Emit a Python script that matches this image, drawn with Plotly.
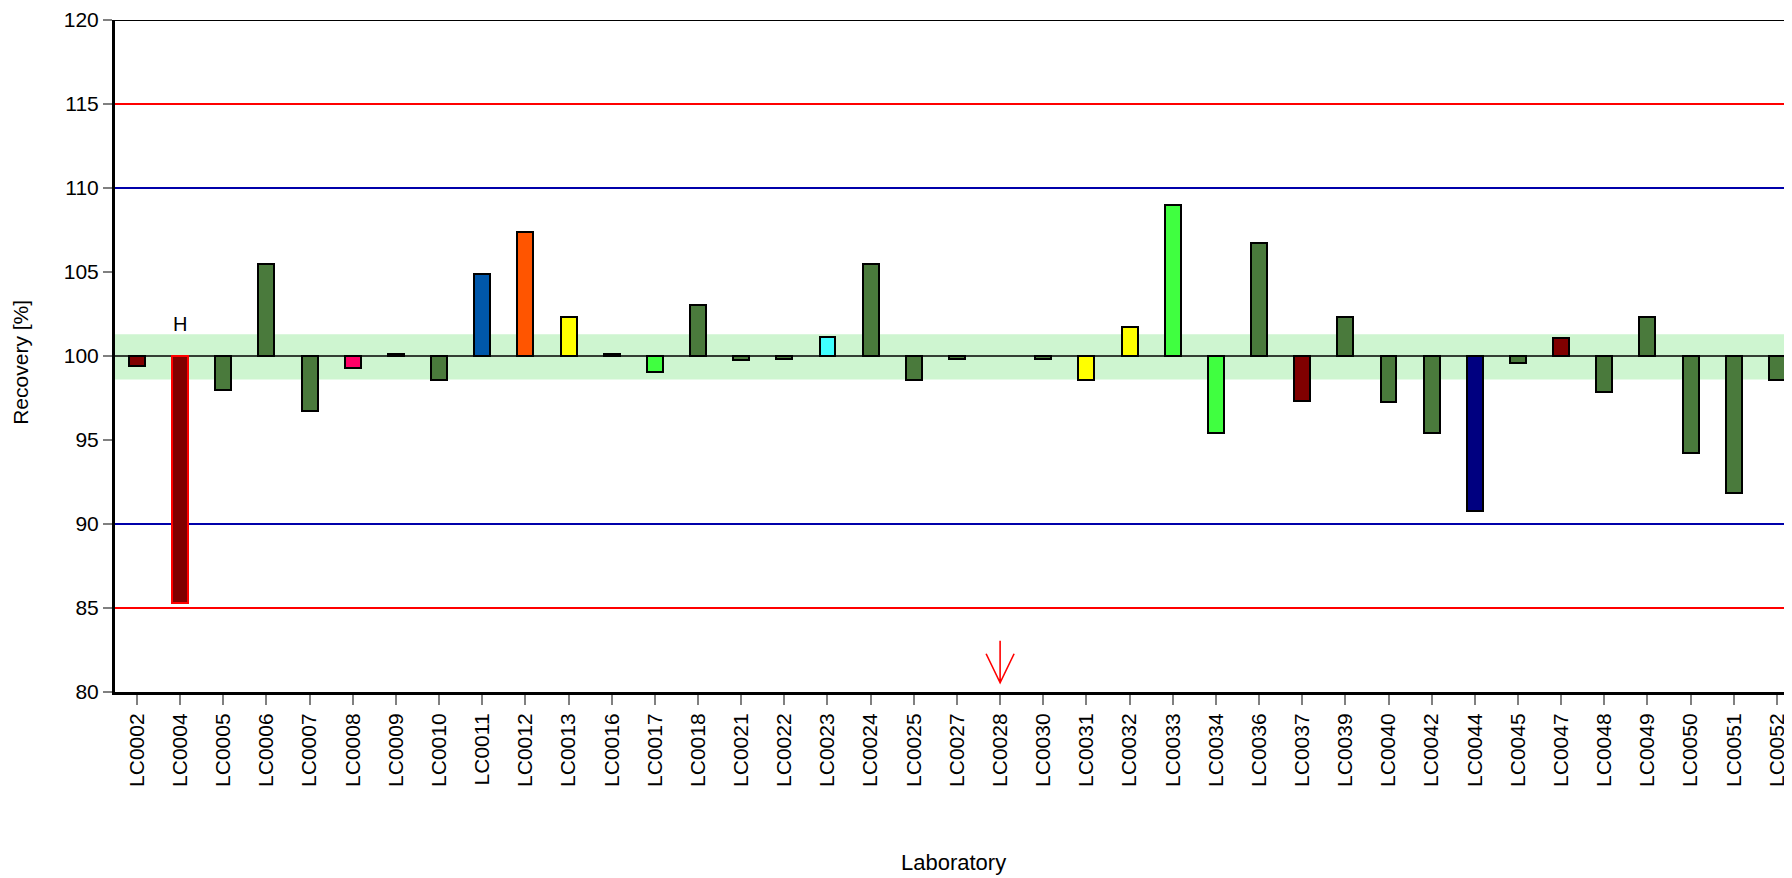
import plotly.graph_objects as go

#----- DATA --------------------------------------------------------------------
labs = [
    'LC0002', 'LC0004', 'LC0005', 'LC0006', 'LC0007', 'LC0008', 'LC0009',
    'LC0010', 'LC0011', 'LC0012', 'LC0013', 'LC0016', 'LC0017', 'LC0018',
    'LC0021', 'LC0022', 'LC0023', 'LC0024', 'LC0025', 'LC0027', 'LC0028',
    'LC0030', 'LC0031', 'LC0032', 'LC0033', 'LC0034', 'LC0036', 'LC0037',
    'LC0039', 'LC0040', 'LC0042', 'LC0044', 'LC0045', 'LC0047', 'LC0048',
    'LC0049', 'LC0050', 'LC0051', 'LC0052',
]
recovery = [
    99.4, 85.3, 98.0, 105.5, 96.7, 99.3, 100.1,
    98.6, 104.9, 107.4, 102.3, 100.1, 99.05, 103.05,
    99.75, 99.85, 101.15, 105.5, 98.55, 99.85, None,
    99.85, 98.55, 101.75, 109.0, 95.4, 106.7, 97.3,
    102.3, 97.25, 95.4, 90.8, 99.6, 101.1, 97.85,
    102.3, 94.2, 91.85, 98.55,
]
bar_colors = [
    '#800000', '#800000', '#4a7a3c', '#4a7a3c', '#4a7a3c', '#ff0066', '#4a7a3c',
    '#4a7a3c', '#0057aa', '#ff5500', '#ffff00', '#4a7a3c', '#40ff40', '#4a7a3c',
    '#4a7a3c', '#4a7a3c', '#40ffff', '#4a7a3c', '#4a7a3c', '#4a7a3c', '#4a7a3c',
    '#4a7a3c', '#ffff00', '#ffff00', '#40ff40', '#40ff40', '#4a7a3c', '#800000',
    '#4a7a3c', '#4a7a3c', '#4a7a3c', '#000080', '#4a7a3c', '#800000', '#4a7a3c',
    '#4a7a3c', '#4a7a3c', '#4a7a3c', '#4a7a3c',
]
assigned_value = 100
band = [98.6, 101.3]          # light green uncertainty band
limits_inner = [90, 110]      # blue lines
limits_outer = [85, 115]      # red lines
flagged_lab = 'LC0004'        # marked with "H"
reference_lab = 'LC0028'      # red arrow

font_name = 'Liberation Sans, Arial, sans-serif'

#----- BARS --------------------------------------------------------------------
edge_colors = ['red' if lab == flagged_lab else 'black' for lab in labs]
fig = go.Figure(
    go.Bar(
        x=labs,
        y=[None if v is None else v - assigned_value for v in recovery],
        base=assigned_value,
        width=0.37,
        marker=dict(color=bar_colors, line=dict(color=edge_colors, width=2)),
        showlegend=False,
    )
)

#----- REFERENCE LINES AND BAND ------------------------------------------------
fig.add_hrect(y0=band[0], y1=band[1], fillcolor='#cef5d0', line_width=0,
              layer='below')
for yv in limits_outer:
    fig.add_hline(y=yv, line=dict(color='#ff0000', width=2), layer='below')
for yv in limits_inner:
    fig.add_hline(y=yv, line=dict(color='#0000aa', width=2), layer='below')
fig.add_hline(y=assigned_value, line=dict(color='black', width=1.5),
              layer='below')
fig.add_hline(y=120, line=dict(color='black', width=2), layer='above')

# open red arrow above the axis, sized in pixels around the lab's category
fig.add_shape(
    type='path', xref='x', yref='y',
    xsizemode='pixel', xanchor=labs.index(reference_lab),
    ysizemode='pixel', yanchor=80.55,
    path='M0,0 L0,42 M-14,29 L0,0 L14,29',
    line=dict(color='#ff0000', width=1.6),
)

#----- ANNOTATIONS -------------------------------------------------------------
fig.add_annotation(
    text='H', x=flagged_lab, y=101.9, showarrow=False,
    font=dict(size=20, color='black', family=font_name),
)
fig.add_annotation(
    text='Laboratory', xref='paper', x=0.5, yref='paper', y=-0.253,
    yanchor='middle', showarrow=False,
    font=dict(size=22, color='black', family=font_name),
)
fig.add_annotation(
    text='Recovery [%]', xref='paper', x=-0.056, yref='paper', y=0.49,
    xanchor='center', yanchor='middle', textangle=-90, showarrow=False,
    font=dict(size=21, color='black', family=font_name),
)

#----- LAYOUT ------------------------------------------------------------------
# page body keeps an 8px margin, so the figure is 8px smaller than the window
fig.update_layout(
    width=1784, height=870,
    margin=dict(l=107, r=0, t=9, b=186),
    plot_bgcolor='white', paper_bgcolor='white',
    font=dict(family=font_name, size=21, color='black'),
    bargap=0,
)
fig.update_xaxes(
    range=[-0.51, 38.35],
    showgrid=False, zeroline=False,
    showline=True, linecolor='black', linewidth=3,
    ticks='outside', ticklen=10, tickwidth=2, tickcolor='#808080',
    tickangle=-90, tickfont=dict(size=21),
)
fig.update_yaxes(
    range=[80, 120], tickvals=list(range(80, 121, 5)),
    showgrid=False, zeroline=False,
    showline=True, linecolor='black', linewidth=3,
    ticks='outside', ticklen=9, tickwidth=2, tickcolor='#808080',
    tickfont=dict(size=21), ticklabeloverflow='allow',
)

fig.write_html('out.html')
